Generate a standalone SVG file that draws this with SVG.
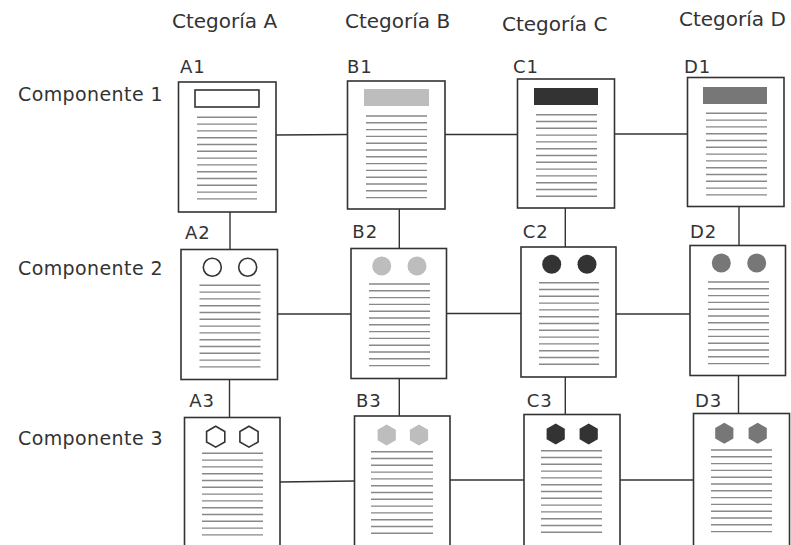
<svg xmlns="http://www.w3.org/2000/svg" xmlns:xlink="http://www.w3.org/1999/xlink" width="791" height="545" viewBox="0 0 791 545">
<style>
text{font-family:"DejaVu Sans","Liberation Sans",sans-serif;fill:#333}
.hdr{font-size:20px}
.row{font-size:19px;letter-spacing:0.4px}
.lbl{font-size:18px;letter-spacing:1px}
.box{fill:#fff;stroke:#333;stroke-width:1.6}
.txt{fill:none;stroke:#888;stroke-width:1.4}
.conn{stroke:#333;stroke-width:1.4;fill:none}
.w{fill:#fff;stroke:#333;stroke-width:1.6}
.l{fill:#bdbdbd}
.d{fill:#333}
.m{fill:#777}
</style>
<defs>
<polygon id="hex" points="0,-10.5 9.1,-5.25 9.1,5.25 0,10.5 -9.1,5.25 -9.1,-5.25"/>
</defs>
<rect width="791" height="545" fill="#fff"/>
<g id="headers">
<text class="hdr" x="172" y="28">Ctegoría A</text>
<text class="hdr" x="345" y="28">Ctegoría B</text>
<text class="hdr" x="502" y="31">Ctegoría C</text>
<text class="hdr" x="679" y="26">Ctegoría D</text>
<text class="row" x="18" y="101">Componente 1</text>
<text class="row" x="18" y="275">Componente 2</text>
<text class="row" x="18" y="445">Componente 3</text>
</g>
<g id="connectors" class="conn">
<line x1="276" y1="135" x2="347.5" y2="134.5"/>
<line x1="445" y1="134.5" x2="517.5" y2="134.5"/>
<line x1="614.5" y1="134" x2="687.5" y2="134"/>
<line x1="277.5" y1="314" x2="351" y2="314"/>
<line x1="446.5" y1="313.5" x2="521" y2="313.5"/>
<line x1="616" y1="314" x2="690" y2="314"/>
<line x1="280" y1="482" x2="354.5" y2="481"/>
<line x1="450" y1="480" x2="524" y2="480"/>
<line x1="620" y1="480" x2="693.5" y2="480"/>
<line x1="230" y1="212" x2="230" y2="249.5"/>
<line x1="229.5" y1="379.5" x2="229.5" y2="417.5"/>
<line x1="399.3" y1="209" x2="399.3" y2="248.5"/>
<line x1="399.3" y1="378.5" x2="399.3" y2="416"/>
<line x1="565.3" y1="208" x2="565.3" y2="247"/>
<line x1="565.3" y1="377" x2="565.3" y2="414.5"/>
<line x1="739" y1="206.5" x2="739" y2="245.5"/>
<line x1="738.5" y1="375.5" x2="738.5" y2="413.5"/>
</g>
<g id="A1">
<text class="lbl" x="180" y="73">A1</text>
<rect class="box" x="178.5" y="82" width="97.5" height="130"/>
<rect class="w" x="195" y="90" width="64" height="17"/>
<path class="txt" d="M197 117.3h60m-60 6.8h60m-60 6.8h60m-60 6.8h60m-60 6.8h60m-60 6.8h60m-60 6.8h60m-60 6.8h60m-60 6.8h60m-60 6.8h60m-60 6.8h60m-60 6.8h60m-60 6.8h60"/>
</g>
<g id="B1">
<text class="lbl" x="347" y="73">B1</text>
<rect class="box" x="347.5" y="81" width="97.5" height="128"/>
<rect class="l" x="364" y="89" width="65" height="17"/>
<path class="txt" d="M366 116h61m-61 6.8h61m-61 6.8h61m-61 6.8h61m-61 6.8h61m-61 6.8h61m-61 6.8h61m-61 6.8h61m-61 6.8h61m-61 6.8h61m-61 6.8h61m-61 6.8h61m-61 6.8h61"/>
</g>
<g id="C1">
<text class="lbl" x="513" y="72.7">C1</text>
<rect class="box" x="517.5" y="79" width="97" height="129"/>
<rect class="d" x="534" y="88" width="64" height="17"/>
<path class="txt" d="M536 114.7h61m-61 6.8h61m-61 6.8h61m-61 6.8h61m-61 6.8h61m-61 6.8h61m-61 6.8h61m-61 6.8h61m-61 6.8h61m-61 6.8h61m-61 6.8h61m-61 6.8h61m-61 6.8h61"/>
</g>
<g id="D1">
<text class="lbl" x="684" y="72.7">D1</text>
<rect class="box" x="687.5" y="77.5" width="96.5" height="129"/>
<rect class="m" x="703" y="87" width="64" height="17"/>
<path class="txt" d="M706 113.3h61m-61 6.8h61m-61 6.8h61m-61 6.8h61m-61 6.8h61m-61 6.8h61m-61 6.8h61m-61 6.8h61m-61 6.8h61m-61 6.8h61m-61 6.8h61m-61 6.8h61m-61 6.8h61"/>
</g>
<g id="A2">
<text class="lbl" x="185" y="239">A2</text>
<rect class="box" x="181" y="249.5" width="96.5" height="130"/>
<circle class="w" cx="212.3" cy="267.3" r="9"/>
<circle class="w" cx="247.7" cy="267.3" r="9"/>
<path class="txt" d="M199.5 285.3h61m-61 6.8h61m-61 6.8h61m-61 6.8h61m-61 6.8h61m-61 6.8h61m-61 6.8h61m-61 6.8h61m-61 6.8h61m-61 6.8h61m-61 6.8h61m-61 6.8h61m-61 6.8h61"/>
</g>
<g id="B2">
<text class="lbl" x="352.3" y="238.3">B2</text>
<rect class="box" x="351" y="248.5" width="95.5" height="130"/>
<circle class="l" cx="381.7" cy="266" r="9.5"/>
<circle class="l" cx="417" cy="266" r="9.5"/>
<path class="txt" d="M369 284h61m-61 6.8h61m-61 6.8h61m-61 6.8h61m-61 6.8h61m-61 6.8h61m-61 6.8h61m-61 6.8h61m-61 6.8h61m-61 6.8h61m-61 6.8h61m-61 6.8h61m-61 6.8h61"/>
</g>
<g id="C2">
<text class="lbl" x="522.7" y="238.3">C2</text>
<rect class="box" x="521" y="247" width="95" height="130"/>
<circle class="d" cx="551.7" cy="264.3" r="9.5"/>
<circle class="d" cx="587" cy="264.3" r="9.5"/>
<path class="txt" d="M539 282.7h60m-60 6.8h60m-60 6.8h60m-60 6.8h60m-60 6.8h60m-60 6.8h60m-60 6.8h60m-60 6.8h60m-60 6.8h60m-60 6.8h60m-60 6.8h60m-60 6.8h60m-60 6.8h60"/>
</g>
<g id="D2">
<text class="lbl" x="690" y="238.3">D2</text>
<rect class="box" x="690" y="245.5" width="95.5" height="130"/>
<circle class="m" cx="721.3" cy="263" r="9.5"/>
<circle class="m" cx="756.7" cy="263" r="9.5"/>
<path class="txt" d="M708 282h61m-61 6.8h61m-61 6.8h61m-61 6.8h61m-61 6.8h61m-61 6.8h61m-61 6.8h61m-61 6.8h61m-61 6.8h61m-61 6.8h61m-61 6.8h61m-61 6.8h61m-61 6.8h61"/>
</g>
<g id="A3">
<text class="lbl" x="189.3" y="407.3">A3</text>
<rect class="box" x="184.5" y="417.5" width="95.5" height="140"/>
<use xlink:href="#hex" class="w" x="215.7" y="436.7"/>
<use xlink:href="#hex" class="w" x="249" y="436.7"/>
<path class="txt" d="M202 453.3h61m-61 6.8h61m-61 6.8h61m-61 6.8h61m-61 6.8h61m-61 6.8h61m-61 6.8h61m-61 6.8h61m-61 6.8h61m-61 6.8h61m-61 6.8h61m-61 6.8h61m-61 6.8h61"/>
</g>
<g id="B3">
<text class="lbl" x="356" y="407.3">B3</text>
<rect class="box" x="354.5" y="416" width="95.5" height="140"/>
<use xlink:href="#hex" class="l" x="386.7" y="435"/>
<use xlink:href="#hex" class="l" x="419" y="435"/>
<path class="txt" d="M371 451.7h62m-62 6.8h62m-62 6.8h62m-62 6.8h62m-62 6.8h62m-62 6.8h62m-62 6.8h62m-62 6.8h62m-62 6.8h62m-62 6.8h62m-62 6.8h62m-62 6.8h62m-62 6.8h62"/>
</g>
<g id="C3">
<text class="lbl" x="526.7" y="406.7">C3</text>
<rect class="box" x="524" y="414.5" width="96" height="140"/>
<use xlink:href="#hex" class="d" x="555.7" y="434"/>
<use xlink:href="#hex" class="d" x="588.7" y="434"/>
<path class="txt" d="M541 450.7h61m-61 6.8h61m-61 6.8h61m-61 6.8h61m-61 6.8h61m-61 6.8h61m-61 6.8h61m-61 6.8h61m-61 6.8h61m-61 6.8h61m-61 6.8h61m-61 6.8h61m-61 6.8h61"/>
</g>
<g id="D3">
<text class="lbl" x="695" y="406.7">D3</text>
<rect class="box" x="693.5" y="413.5" width="96" height="140"/>
<use xlink:href="#hex" class="m" x="724.3" y="433.3"/>
<use xlink:href="#hex" class="m" x="757.7" y="433.3"/>
<path class="txt" d="M711 450h61m-61 6.8h61m-61 6.8h61m-61 6.8h61m-61 6.8h61m-61 6.8h61m-61 6.8h61m-61 6.8h61m-61 6.8h61m-61 6.8h61m-61 6.8h61m-61 6.8h61m-61 6.8h61"/>
</g>
</svg>
